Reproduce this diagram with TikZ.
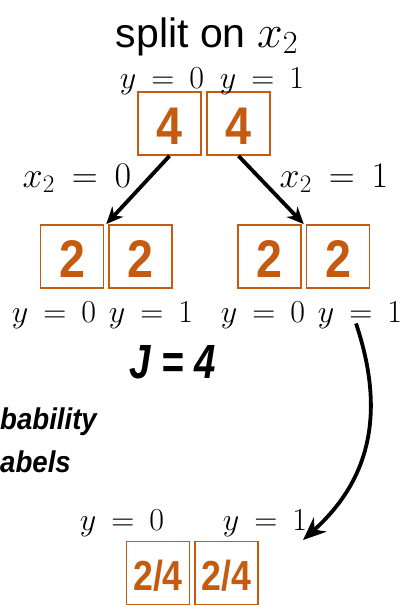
\RequirePackage{fix-cm}
\documentclass[tikz,border=0pt]{standalone}
\usepackage{fontspec}
\setmainfont{Liberation Sans}
\usepackage{graphicx}
\usetikzlibrary{arrows.meta,calc}
\definecolor{org}{HTML}{C55A11}
\thickmuskip=8.5mu plus 5mu
\newcommand{\narrowtxt}[2]{\scalebox{#1}[1]{#2}}
\tikzset{
  cbox/.style={draw=org, line width=1.8pt, fill=white, minimum width=63pt, minimum height=63pt, inner sep=0pt},
  ctxt/.style={anchor=base, text=org, inner sep=0pt, font=\fontsize{53}{56}\selectfont\bfseries},
  ptxt/.style={anchor=base, text=org, inner sep=0pt, font=\fontsize{42}{46}\selectfont\bfseries},
  ylab/.style={anchor=base, inner sep=0pt, font=\fontsize{32}{36}\selectfont},
  xlab/.style={anchor=base, inner sep=0pt, font=\fontsize{36}{40}\selectfont},
  edge/.style={line width=3.8pt, -{Stealth[length=17pt,width=15pt]}},
  curvearrow/.style={line width=3.8pt, -{Stealth[length=23pt,width=19pt]}},
  note/.style={anchor=base west, inner sep=0pt, font=\fontsize{30}{34}\selectfont\bfseries\itshape},
}
\begin{document}
\begin{tikzpicture}[x=1pt,y=-1pt]
\useasboundingbox (0,0) rectangle (402,605);
% title
\node[anchor=base, inner sep=0pt, font=\fontsize{41}{46}\selectfont] (title) at (207,47) {split on {\fontsize{46}{50}\selectfont$x_2$}};
% top boxes
\node[cbox] (t0) at (169.5,123.5) {};
\node[cbox] (t1) at (238.5,123.5) {};
\node[ctxt] (t0n) at (169.5,144) {\narrowtxt{0.88}{4}};
\node[ctxt] (t1n) at (238.5,144) {\narrowtxt{0.88}{4}};
\node[ylab] (t0y) at (162,88) {$y=0$};
\node[ylab] (t1y) at (262,88) {$y=1$};
% middle boxes
\node[cbox] (a0) at (72,256.5) {};
\node[cbox] (a1) at (140.5,256.5) {};
\node[cbox] (b0) at (269.5,256.5) {};
\node[cbox] (b1) at (338,256.5) {};
\node[ctxt] (a0n) at (72,277) {\narrowtxt{0.88}{2}};
\node[ctxt] (a1n) at (140.5,277) {\narrowtxt{0.88}{2}};
\node[ctxt] (b0n) at (269.5,277) {\narrowtxt{0.88}{2}};
\node[ctxt] (b1n) at (338,277) {\narrowtxt{0.88}{2}};
\node[ylab] (a0y) at (54,322) {$y=0$};
\node[ylab] (a1y) at (151,322) {$y=1$};
\node[ylab] (b0y) at (263,322) {$y=0$};
\node[ylab] (b1y) at (360,322) {$y=1$};
% edge labels
\node[xlab] (e0) at (77,187) {$x_2=0$};
\node[xlab] (e1) at (334,187) {$x_2=1$};
% edges
\coordinate (ja) at ($(a0.north east)!0.5!(a1.north west)$);
\coordinate (jb) at ($(b0.north east)!0.5!(b1.north west)$);
\draw[edge] (t0.south) -- (ja);
\draw[edge] (t1.south) -- (jb);
% J = 4
\node[anchor=base, inner sep=0pt, font=\fontsize{48}{52}\selectfont\bfseries\itshape] (J) at (173,378) {\narrowtxt{0.8}{J = 4}};
% clipped note
\node[note] (n1) at (0,429) {\narrowtxt{0.92}{bability}};
\node[note] (n2) at (0,472) {\narrowtxt{0.92}{abels}};
% bottom
\node[ylab] (c0y) at (122,530) {$y=0$};
\node[ylab] (c1y) at (265,530) {$y=1$};
\node[cbox] (c0) at (158,573) {};
\node[cbox] (c1) at (226.5,573) {};
\node[ptxt] (c0n) at (158,590) {\narrowtxt{0.85}{2/4}};
\node[ptxt] (c1n) at (226.5,590) {\narrowtxt{0.85}{2/4}};
% curved arrow
\coordinate (cend) at (303,540);
\draw[curvearrow] ([xshift=-4pt,yshift=5pt]b1y.south) .. controls (385,410) and (372,478) .. (cend);
\end{tikzpicture}
\end{document}
